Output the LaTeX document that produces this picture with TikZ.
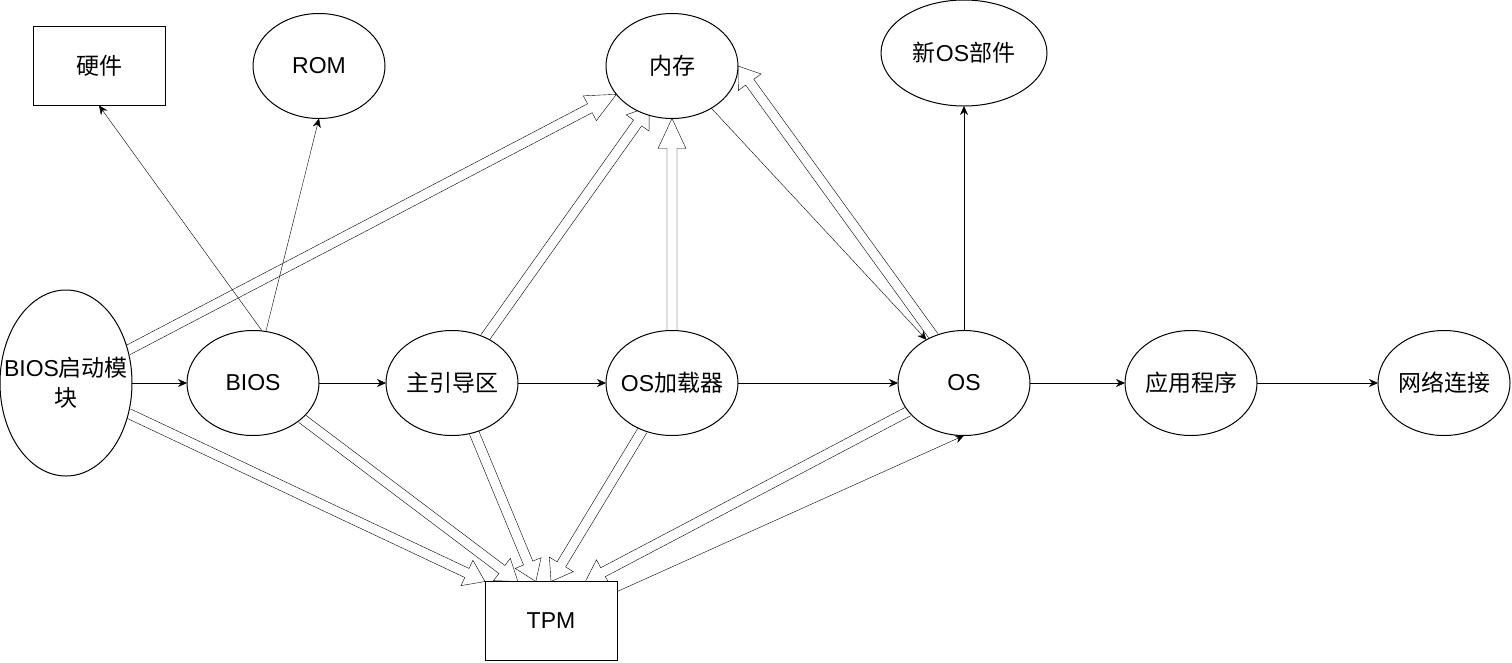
\documentclass[tikz,border=0pt]{standalone}
\usepackage{fontspec}
\setmainfont{Liberation Sans}
\newfontfamily\cjk{Noto Sans CJK SC}
\usepackage{tikz}
\usetikzlibrary{shapes, arrows.meta}
\usetikzlibrary{positioning, calc, backgrounds}
\tikzstyle{blob} = [ellipse, minimum width = 132, minimum height = 105,
  inner sep = -20, outer sep = 0, draw = black, fill = white, text centered]
\tikzstyle{box} = [rectangle, minimum width = 132, minimum height = 79,
  outer sep = 0, draw = black, fill = white, text centered]
\tikzstyle{link} = [-{Stealth[length = 9pt, width = 8pt]}]
\tikzset{
  flex/.style = {fill = white, to path = {
    let \p1 = (\tikztostart), \p2 = (\tikztotarget),
    \n1 = {atan2(\y2 - \y1, \x2 - \x1)} in
    ($(\p1) + (\n1+90:5pt)$) --
    ($(\p2) + (\n1+180:#1) + (\n1+90:5pt)$) --
    ($(\p2) + (\n1+180:#1) + (\n1+90:14pt)$) --
    (\p2) --
    ($(\p2) + (\n1+180:#1) + (\n1-90:14pt)$) --
    ($(\p2) + (\n1+180:#1) + (\n1-90:5pt)$) --
    ($(\p1) + (\n1-90:5pt)$)
  }},
  flex/.default = 20pt
}

\begin{document}
\begin{tikzpicture}[node distance = 0, x = 1pt, y = 1pt,
    font = \fontsize{23}{30}\selectfont, line width = 1pt]
      \useasboundingbox (0, 0) rectangle (1512, -662);
      % chain
      \node [blob, minimum height = 186, align = center] (bootm) at (66, -383)
        {BIOS{\cjk 启动模}\\{\cjk 块}};
      \node [blob, right of = bootm, xshift = 187] (bios) {BIOS};
      \node [blob, right of = bios, xshift = 199] (mbr) {\cjk 主引导区};
      \node [blob, right of = mbr, xshift = 220] (osl) {OS{\cjk 加载器}};
      \node [blob, right of = osl, xshift = 292] (os) {OS};
      \node [blob, right of = os, xshift = 227] (app) {\cjk 应用程序};
      \node [blob, right of = app, xshift = 253] (net) {\cjk 网络连接};
      % top row
      \node [blob, above of = osl, yshift = 317] (mem) {\cjk 内存};
      \node [blob, above of = os, yshift = 330, minimum width = 166,
        minimum height = 106] (newos) {{\cjk 新}OS{\cjk 部件}};
      \node [blob, left of = mem, xshift = -353] (rom) {ROM};
      \node [box, left of = rom, xshift = -220] (hw) {\cjk 硬件};
      % bottom
      \node [box, below of = mbr, xshift = 99, yshift = -238] (tpm) {TPM};

      \begin{pgfonlayer}{background}
        % measured into memory
        \draw [flex = 30pt] (bootm.28) to (mem.207);
        \draw [flex] (mbr.54) to ([shift = {(2pt, 8pt)}]mem.243);
        \draw [flex = 30pt] (osl.north) to (mem.south);
        \draw [flex] (os.123) to (mem.east);
        % reported to tpm
        \draw [flex] (bootm.-26) to (tpm.north west);
        \draw [flex] (bios.-36) to (tpm.130);
        \draw [flex] (mbr.-66) to (tpm.111);
        \draw [flex] (osl.238) to (tpm.north);
        \draw [flex] (os.207) to (tpm.49);
        % chain
        \draw [link] (bootm) -- (bios);
        \draw [link] (bios) -- (mbr);
        \draw [link] (mbr) -- (osl);
        \draw [link] (osl) -- (os);
        \draw [link] (os) -- (app);
        \draw [link] (app) -- (net);
        % others
        \draw [link] (bios.80) -- (hw.south);
        \draw [link] (bios.76) -- (rom.south);
        \draw [link] (mem.-47) -- (os.131);
        \draw [link] (tpm.24) -- (os.south);
        \draw [link] (os) -- (newos);
      \end{pgfonlayer}
    \end{tikzpicture}
\end{document}
